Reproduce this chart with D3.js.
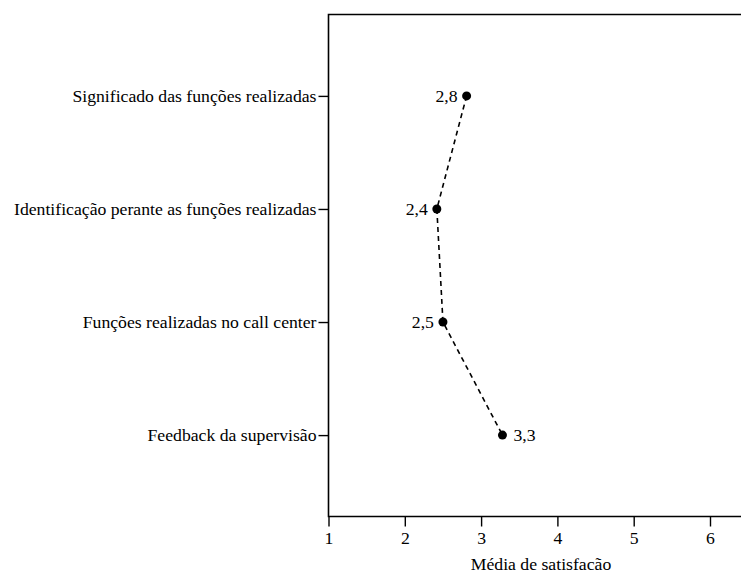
<!DOCTYPE html>
<html><head><meta charset="utf-8">
<script src="https://cdn.jsdelivr.net/npm/d3@7"></script>
<style>body{margin:0;background:#fff}svg{display:block}text{font-family:"Liberation Serif","Times New Roman",serif;fill:#000}</style>
</head><body>
<svg id="c" width="741" height="573"></svg>
<script>
const categories = ["Significado das funções realizadas","Identificação perante as funções realizadas","Funções realizadas no call center","Feedback da supervisão"];
const values = [2.81, 2.42, 2.50, 3.28];
const valueLabels = ["2,8","2,4","2,5","3,3"];
const xTicks = [1,2,3,4,5,6];
const labelSide = ["left","left","left","right"];

const svg = d3.select("#c");
const L = 328.5, T = 14.5, B = 516.5;
const unit = 76.3;
const R = L + unit*6;
const FS = 17.7;
const x = d3.scaleLinear().domain([1,7]).range([L, R]);
const y = d3.scalePoint().domain(categories).range([T, B]).padding(0.72);

// frame
svg.append("path").attr("d",`M${R},${T}H${L}V${B}H${R}`).attr("fill","none").attr("stroke","#000").attr("stroke-width",1.6);

// x axis
const xa = svg.append("g").attr("transform",`translate(0,${B})`)
  .call(d3.axisBottom(x).tickValues(xTicks).tickSize(10).tickPadding(5).tickFormat(d3.format("d")));
xa.select(".domain").remove();
xa.attr("font-size",FS).attr("font-family","Liberation Serif");
xa.selectAll("line").attr("stroke","#000").attr("stroke-width",1.4);

// y axis
const ya = svg.append("g").attr("transform",`translate(${L},0)`)
  .call(d3.axisLeft(y).tickSize(10).tickPadding(2));
ya.select(".domain").remove();
ya.attr("font-size",FS).attr("font-family","Liberation Serif");
ya.selectAll("line").attr("stroke","#000").attr("stroke-width",1.4);

// axis title
svg.append("text").attr("x", 541).attr("y",570).attr("text-anchor","middle").attr("font-size",FS).text("Média de satisfacão");

// line
const line = d3.line().x(d=>x(d)).y((d,i)=>y(categories[i]));
svg.append("path").datum(values).attr("d",line).attr("fill","none").attr("stroke","#000").attr("stroke-width",1.6).attr("stroke-dasharray","5,4");

svg.selectAll("circle.pt").data(values).join("circle").attr("class","pt")
  .attr("cx",d=>x(d)).attr("cy",(d,i)=>y(categories[i])).attr("r",4.5).attr("fill","#000");

svg.selectAll("text.vl").data(values).join("text").attr("class","vl")
  .attr("x",(d,i)=>labelSide[i]==="left"? x(d)-9 : x(d)+11)
  .attr("y",(d,i)=>y(categories[i])+6)
  .attr("text-anchor",(d,i)=>labelSide[i]==="left"?"end":"start")
  .attr("font-size",FS).text((d,i)=>valueLabels[i]);
</script>
</body></html>
